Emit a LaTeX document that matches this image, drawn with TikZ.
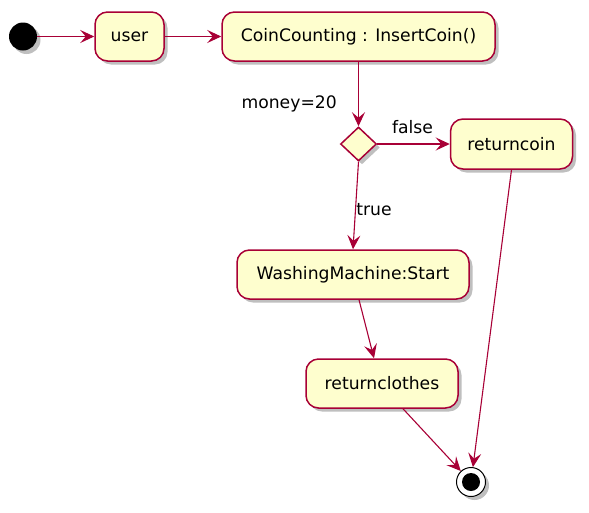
\documentclass[tikz,border=0pt]{standalone}
\usepackage{fontspec}
\setmainfont{DejaVu Sans}
\usetikzlibrary{arrows.meta,shadows,calc,shapes.geometric}
\definecolor{actfill}{HTML}{FEFECE}
\definecolor{actline}{HTML}{A80036}
\tikzset{
  shade/.style={drop shadow={shadow xshift=3.5pt,shadow yshift=-3.5pt,fill=black,opacity=0.25}},
  act/.style={draw=actline,fill=actfill,line width=1.5pt,rounded corners=12.5pt,
    inner sep=0pt,minimum height=49pt,font=\fontsize{17.2}{20}\selectfont,shade},
  decis/.style={draw=actline,fill=actfill,line width=1.5pt,diamond,inner sep=0pt,
    minimum width=36pt,minimum height=34pt,shade,shape aspect=1},
  flow/.style={draw=actline,line width=1.1pt,-{Stealth[length=14pt,width=13pt,inset=5.5pt]}},
  lbl/.style={font=\fontsize{17.2}{20}\selectfont,inner sep=0pt},
}
\begin{document}
\begin{tikzpicture}[x=1pt,y=-1pt]
\useasboundingbox (0,0) rectangle (589,512);
\node[circle,fill=black,minimum size=28pt,inner sep=0pt,shade] (start) at (23,36.5) {};
\node[act,minimum width=69pt] (user) at (129.5,36.5) {user};
\node[act,minimum width=273pt] (coin) at (358.5,36.5) {CoinCounting : InsertCoin()};
\node[decis] (dec) at (358.5,144) {};
\node[lbl,anchor=east] (money) at (337,104) {money=20};
\node[act,minimum width=122pt,minimum height=50pt] (retcoin) at (511.5,144) {returncoin};
\node[lbl] (false) at (412.5,127) {false};
\node[act,minimum width=232pt] (wash) at (353,274.5) {WashingMachine:Start};
\node[lbl] (true) at (374,210) {true};
\node[act,minimum width=152pt] (retclothes) at (382,383.5) {returnclothes};
\node[circle,draw=black,line width=1pt,fill=white,minimum size=29pt,inner sep=0pt,shade] (stop) at (471,482) {};
\node[circle,fill=black,minimum size=18pt,inner sep=0pt] (stopdot) at (stop) {};

\draw[flow] (start) -- (user);
\draw[flow] (user) -- (coin);
\draw[flow] (coin.south -| dec) -- (dec.north);
\draw[flow] (dec.east) -- (retcoin.west);
\draw[flow] (dec.south) -- (wash.north);
\draw[flow] ([xshift=6pt]wash.south) -- ([xshift=-8pt]retclothes.north);
\draw[flow] ([xshift=21pt]retclothes.south) -- (stop);
\draw[flow] (retcoin.south) -- (stop);
\end{tikzpicture}
\end{document}
